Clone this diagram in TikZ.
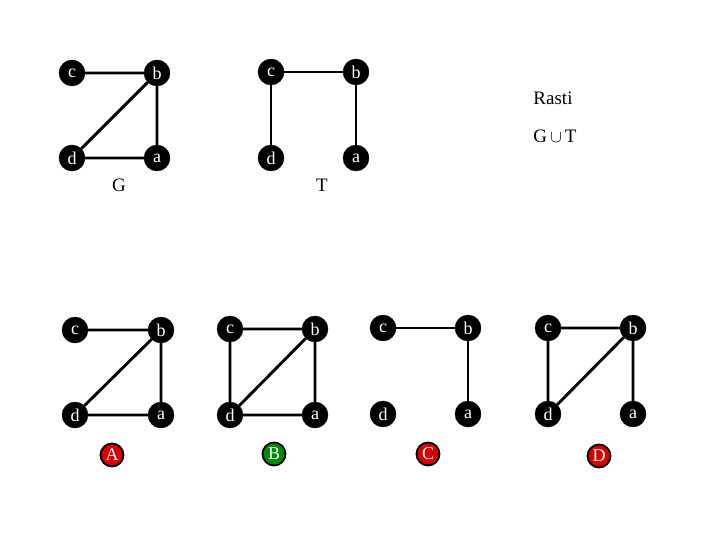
\documentclass[tikz,border=0pt]{standalone}
\usepackage{fontspec}
\setmainfont{Liberation Serif}
\begin{document}
\begin{tikzpicture}[x=1pt,y=-1pt,
  vtx/.style={circle,fill=black,draw=black,minimum size=26pt,inner sep=0pt,text=white,font=\fontsize{18}{18}\selectfont},
  lbl/.style={font=\fontsize{19}{19}\selectfont},
  ans/.style={circle,draw=black,line width=1.8pt,minimum size=23pt,inner sep=0pt,text=white,font=\fontsize{18}{18}\selectfont},
  edge/.style={line width=2.9pt}]
\useasboundingbox (0,0) rectangle (720,540);
% G
\node[vtx] (Gc) at (72,73) {c};
\node[vtx] (Gb) at (157,73) {b};
\node[vtx] (Gd) at (72,158) {d};
\node[vtx] (Ga) at (157,158) {a};
\draw[edge] (Gc) -- (Gb) (Gb) -- (Ga) (Gd) -- (Ga) (Gd) -- (Gb);
\node[lbl] (Glab) at (119,185) {G};
% T
\node[vtx] (Tc) at (271,72) {c};
\node[vtx] (Tb) at (356,72) {b};
\node[vtx] (Td) at (271,158) {d};
\node[vtx] (Ta) at (356,158) {a};
\draw[edge] (Tc) -- (Tb) (Tb) -- (Ta) (Tc) -- (Td);
\node[lbl] (Tlab) at (322,185) {T};
% text
\node[lbl] (rasti) at (553,98) {Rasti};
\node[lbl] (gut) at (555,136) {G\,$\cup$\,T};
% A
\node[vtx] (Ac) at (75,330) {c};
\node[vtx] (Ab) at (161,330) {b};
\node[vtx] (Ad) at (75,415) {d};
\node[vtx] (Aa) at (161,415) {a};
\draw[edge] (Ac) -- (Ab) (Ab) -- (Aa) (Ad) -- (Aa) (Ad) -- (Ab);
\node[ans,fill=red!85!black] (Alab) at (112,455) {A};
% B
\node[vtx] (Bc) at (230,329) {c};
\node[vtx] (Bb) at (315,329) {b};
\node[vtx] (Bd) at (230,415) {d};
\node[vtx] (Ba) at (315,415) {a};
\draw[edge] (Bc) -- (Bb) (Bb) -- (Ba) (Bd) -- (Ba) (Bd) -- (Bb) (Bc) -- (Bd);
\node[ans,fill=green!55!black] (Blab) at (274,454) {B};
% C
\node[vtx] (Cc) at (383,328) {c};
\node[vtx] (Cb) at (468,328) {b};
\node[vtx] (Cd) at (383,414) {d};
\node[vtx] (Ca) at (468,414) {a};
\draw[edge] (Cc) -- (Cb) (Cb) -- (Ca);
\node[ans,fill=red!85!black] (Clab) at (428,454) {C};
% D
\node[vtx] (Dc) at (548,328) {c};
\node[vtx] (Db) at (633,328) {b};
\node[vtx] (Dd) at (548,414) {d};
\node[vtx] (Da) at (633,414) {a};
\draw[edge] (Dc) -- (Db) (Db) -- (Da) (Dc) -- (Dd) (Dd) -- (Db);
\node[ans,fill=red!85!black] (Dlab) at (599,456) {D};
\end{tikzpicture}
\end{document}
